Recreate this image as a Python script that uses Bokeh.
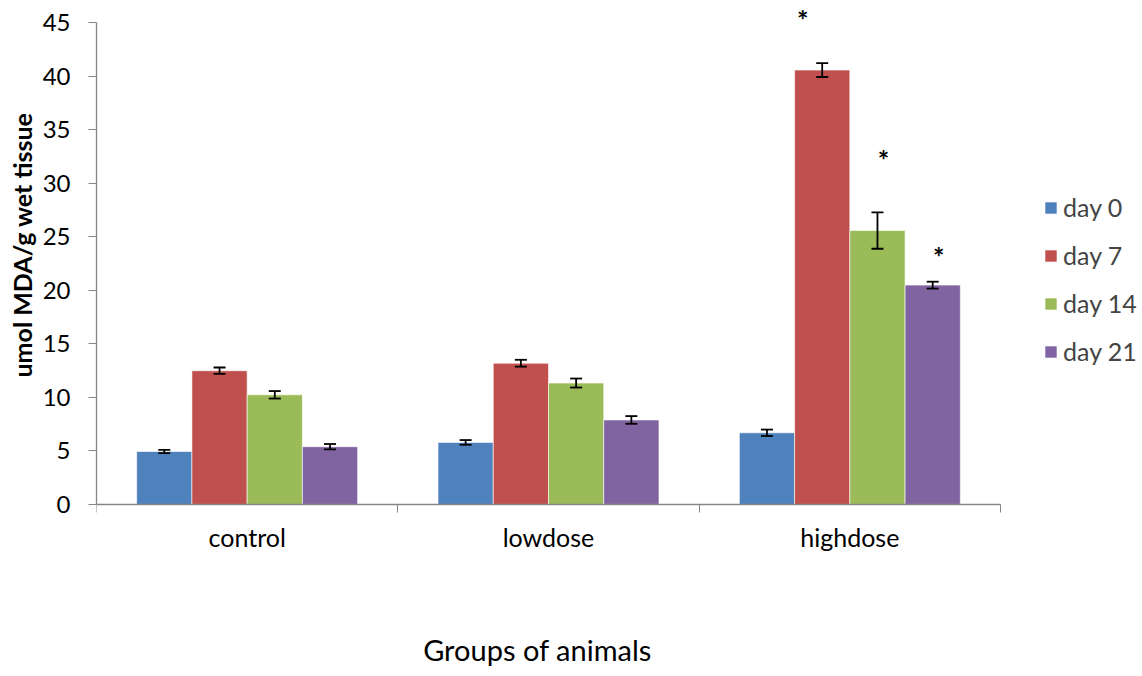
from bokeh.plotting import figure
from bokeh.models import ColumnDataSource, Whisker, TeeHead, Legend, LegendItem, FixedTicker, Range1d, Title, Label
from bokeh.core.properties import value
from bokeh.embed import file_html
from bokeh.resources import INLINE

groups = ["control", "lowdose", "highdose"]
series = ["day 0", "day 7", "day 14", "day 21"]
day0 = [4.95, 5.8, 6.7]
day7 = [12.5, 13.2, 40.6]
day14 = [10.25, 11.35, 25.6]
day21 = [5.4, 7.9, 20.5]
err0 = [0.15, 0.22, 0.3]
err7 = [0.3, 0.32, 0.65]
err14 = [0.35, 0.42, 1.7]
err21 = [0.25, 0.36, 0.32]
star_series = [1, 2, 3]          # significant series in highdose group
star_y = [45.3, 32.25, 23.15]
y_ticks = [0, 5, 10, 15, 20, 25, 30, 35, 40, 45]
x_title = "Groups of animals"
y_title = "umol MDA/g wet tissue"

colors = ["#4F81BD", "#C0504D", "#9BBB59", "#8064A2"]
offsets = [-0.275, -0.0917, 0.0917, 0.275]
bar_w = 0.1833
FONT = "Lato"

p = figure(frame_width=1044, frame_height=674, min_border_left=96, min_border_top=0,
           min_border_right=0, min_border_bottom=0,
           output_backend="svg", toolbar_location=None,
           x_range=Range1d(0, 3.4646), y_range=Range1d(-15.89, 47.1))
p.outline_line_color = None
p.xgrid.visible = False
p.ygrid.visible = False
p.background_fill_color = "white"

vals = [day0, day7, day14, day21]
errs = [err0, err7, err14, err21]
renderers = []
for k in range(4):
    xs = [i + 0.5 + offsets[k] for i in range(3)]
    src = ColumnDataSource(dict(x=xs, top=vals[k],
                                upper=[v + e for v, e in zip(vals[k], errs[k])],
                                lower=[v - e for v, e in zip(vals[k], errs[k])]))
    r = p.vbar(x="x", top="top", width=bar_w, bottom=0, source=src,
               fill_color=colors[k], line_color="white", line_alpha=0.6, line_width=1)
    renderers.append(r)
    w = Whisker(base="x", upper="upper", lower="lower", source=src, level="overlay",
                line_color="black", line_width=1.8,
                upper_head=TeeHead(size=12, line_width=1.8, line_color="black"),
                lower_head=TeeHead(size=12, line_width=1.8, line_color="black"))
    p.add_layout(w)

star_shift = [-0.065, 0.02, 0.02]
star_x = [2 + 0.5 + offsets[s] + d for s, d in zip(star_series, star_shift)]
p.text(x=star_x, y=star_y, text=["*"] * 3, text_align="center", text_baseline="middle",
       text_font=value(FONT), text_font_size="27px", text_font_style="bold", text_color="black")

# x axis drawn at y = 0 inside the (extended) frame
ax = p.xaxis[0]
ax.fixed_location = 0
ax.bounds = (0, 3)
ax.ticker = FixedTicker(ticks=[0.5, 1.5, 2.5], minor_ticks=[0, 1, 2, 3])
ax.major_label_overrides = {0.5: groups[0], 1.5: groups[1], 2.5: groups[2]}
ax.major_tick_out = 0
ax.major_tick_in = 0
ax.minor_tick_out = 8
ax.minor_tick_in = 0
ax.minor_tick_line_color = "#868686"
ax.axis_line_color = "#868686"
ax.axis_line_width = 1.3
ax.major_label_text_font = FONT
ax.major_label_text_font_size = "25px"
ax.major_label_text_color = "black"
ax.major_label_standoff = 10

p.add_layout(Label(x=1.4635, y=-13.6, text=x_title, text_align="center", text_baseline="middle",
                   text_font=FONT, text_font_size="29px", text_color="black"))

ay = p.yaxis[0]
ay.bounds = (0, 45)
ay.ticker = FixedTicker(ticks=y_ticks, minor_ticks=[])
ay.major_tick_out = 8
ay.major_tick_in = 0
ay.major_tick_line_color = "#868686"
ay.axis_line_color = "#868686"
ay.axis_line_width = 1.3
ay.major_label_text_font = FONT
ay.major_label_text_font_size = "24px"
ay.major_label_text_color = "black"
ay.major_label_standoff = 18

ytitle = Title(text=y_title, align="left", offset=127 + 170,
               text_font=FONT, text_font_size="25px", text_font_style="bold",
               text_color="black", standoff=6)
p.add_layout(ytitle, "left")

legend = Legend(items=[LegendItem(label=series[k], renderers=[renderers[k]]) for k in range(4)],
                location=(947, 138 + 170), orientation="vertical",
                glyph_width=15, glyph_height=15, label_height=25, spacing=18,
                label_text_font=FONT, label_text_font_size="25px", label_standoff=5,
                border_line_color=None, background_fill_alpha=0, padding=0, margin=0)
p.add_layout(legend)

open("out.html", "w").write(file_html(p, INLINE))
